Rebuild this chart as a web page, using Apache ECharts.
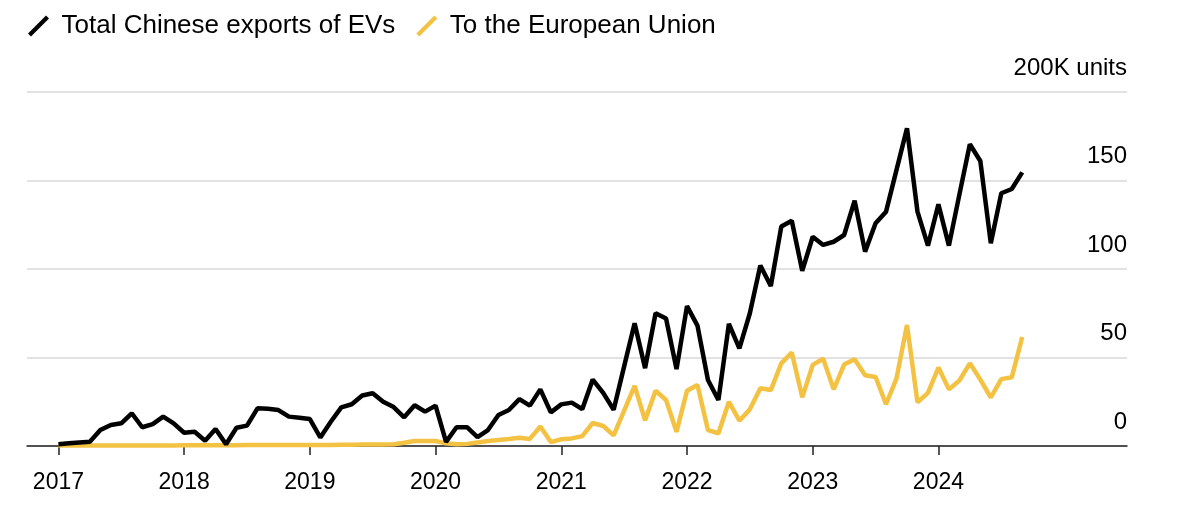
<!DOCTYPE html>
<html>
<head>
<meta charset="utf-8">
<script src="https://cdn.jsdelivr.net/npm/echarts@6/dist/echarts.min.js"></script>
<style>
  html, body { margin: 0; padding: 0; background: #ffffff; }
  #chart { width: 1200px; height: 518px; }
</style>
</head>
<body>
<div id="chart"></div>
<script>
// Monthly data, Jan 2017 .. Sep 2024 (thousand units)
const startYear = 2017;
const yearTicks = [2017, 2018, 2019, 2020, 2021, 2022, 2023, 2024];
const seriesNames = ['Total Chinese exports of EVs', 'To the European Union'];

const totalExports = [
  // 2017
  1, 1.5, 2, 2.4, 9, 11.9, 12.8, 18.5, 10.6, 12.4, 16.6, 12.8,
  // 2018
  7.5, 8, 3, 9.6, 1, 10.3, 11.5, 21.3, 21, 20.3, 16.6, 16,
  // 2019
  15.2, 4.8, 13.7, 21.8, 23.6, 28.5, 29.8, 25, 22, 16.2, 23, 19.4,
  // 2020
  22.8, 2.3, 10.6, 10.6, 5, 9, 17.5, 20.3, 26.5, 22.8, 32, 19,
  // 2021
  23.5, 24.5, 20.8, 37.5, 30, 20.5, 45, 69.3, 44, 75, 72, 43.5,
  // 2022
  79, 68, 37.3, 26, 69, 55.2, 75, 102, 90.4, 124, 127.3, 99,
  // 2023
  118.2, 113.6, 115.4, 119.2, 138.6, 109.8, 125.8, 132.4, 156, 179.5, 132.4, 113.2,
  // 2024
  136.5, 113.2, 142, 170.5, 161, 114.5, 142.8, 145.2, 154.6
];

const euExports = [
  // 2017
  0.3, 0.3, 0.3, 0.3, 0.3, 0.3, 0.3, 0.3, 0.3, 0.3, 0.3, 0.3,
  // 2018
  0.4, 0.4, 0.4, 0.4, 0.4, 0.4, 0.5, 0.5, 0.5, 0.5, 0.5, 0.5,
  // 2019
  0.6, 0.6, 0.6, 0.7, 0.7, 0.8, 0.8, 0.9, 1, 1.8, 2.8, 2.8,
  // 2020
  2.8, 1.5, 1, 1.2, 2, 2.8, 3.4, 4, 4.7, 4, 11, 2.2,
  // 2021
  3.8, 4.3, 5.6, 13, 11.3, 6, 20, 34, 14.5, 31.2, 26, 8,
  // 2022
  31.2, 34.5, 9, 7.2, 25, 14.3, 20.7, 32.6, 31.6, 46.7, 52.8, 27.5,
  // 2023
  45.8, 49.3, 32, 46, 49, 40, 39, 23.6, 38.2, 68.4, 24.7, 30,
  // 2024
  44.3, 32, 37, 46.7, 37.5, 27.4, 37.8, 38.8, 61.6
];

const yTicks = [0, 50, 100, 150, 200];
const unitLabel = '200K units';

const toPoints = arr => arr.map((v, i) => [i, v]);
const tickMonths = yearTicks.map(y => (y - startYear) * 12);

const FONT = "'Liberation Sans', Arial, sans-serif";
const chart = echarts.init(document.getElementById('chart'), null, { renderer: 'canvas' });

chart.setOption({
  animation: false,
  backgroundColor: '#ffffff',
  textStyle: { fontFamily: FONT },
  legend: {
    left: 28,
    top: 13,
    padding: 0,
    itemWidth: 22,
    itemHeight: 21,
    itemGap: 21,
    data: [
      { name: seriesNames[0], icon: 'path://M0,18 L18,0 L21,3 L3,21 Z', itemStyle: { color: '#000000' } },
      { name: seriesNames[1], icon: 'path://M0,18 L18,0 L21,3 L3,21 Z', itemStyle: { color: '#f4c243' } }
    ],
    textStyle: { fontSize: 26, color: '#000000', fontFamily: FONT, padding: [0, 0, 0, 7] }
  },
  grid: { left: 27, right: 73, top: 92, bottom: 72, containLabel: false },
  xAxis: {
    type: 'value',
    min: -3,
    max: 102,
    splitLine: { show: false },
    axisLine: { show: true, onZero: false, lineStyle: { color: '#222222', width: 1.5 } },
    axisTick: {
      show: true,
      length: 9,
      customValues: tickMonths,
      lineStyle: { color: '#222222', width: 1.5 }
    },
    axisLabel: {
      customValues: tickMonths,
      margin: 25,
      fontSize: 23,
      color: '#000000',
      fontFamily: FONT,
      formatter: v => String(startYear + Math.round(v / 12))
    }
  },
  yAxis: {
    type: 'value',
    position: 'right',
    min: yTicks[0],
    max: yTicks[yTicks.length - 1],
    interval: 50,
    axisLine: { show: false },
    axisTick: { show: false },
    splitLine: { show: true, lineStyle: { color: '#d9d9d9', width: 1.5 } },
    axisLabel: {
      inside: true,
      margin: 0,
      align: 'right',
      verticalAlign: 'bottom',
      padding: [0, 0, 12, 0],
      fontSize: 24,
      color: '#000000',
      fontFamily: FONT,
      formatter: v => (v === 200 ? unitLabel : String(v))
    }
  },
  series: [
    {
      name: seriesNames[0],
      type: 'line',
      z: 3,
      data: toPoints(totalExports),
      showSymbol: false,
      symbol: 'none',
      lineStyle: { color: '#000000', width: 4.5 },
      itemStyle: { color: '#000000' }
    },
    {
      name: seriesNames[1],
      type: 'line',
      z: 2,
      data: toPoints(euExports),
      showSymbol: false,
      symbol: 'none',
      lineStyle: { color: '#f4c243', width: 4.5 },
      itemStyle: { color: '#f4c243' }
    }
  ]
});
</script>
</body>
</html>
